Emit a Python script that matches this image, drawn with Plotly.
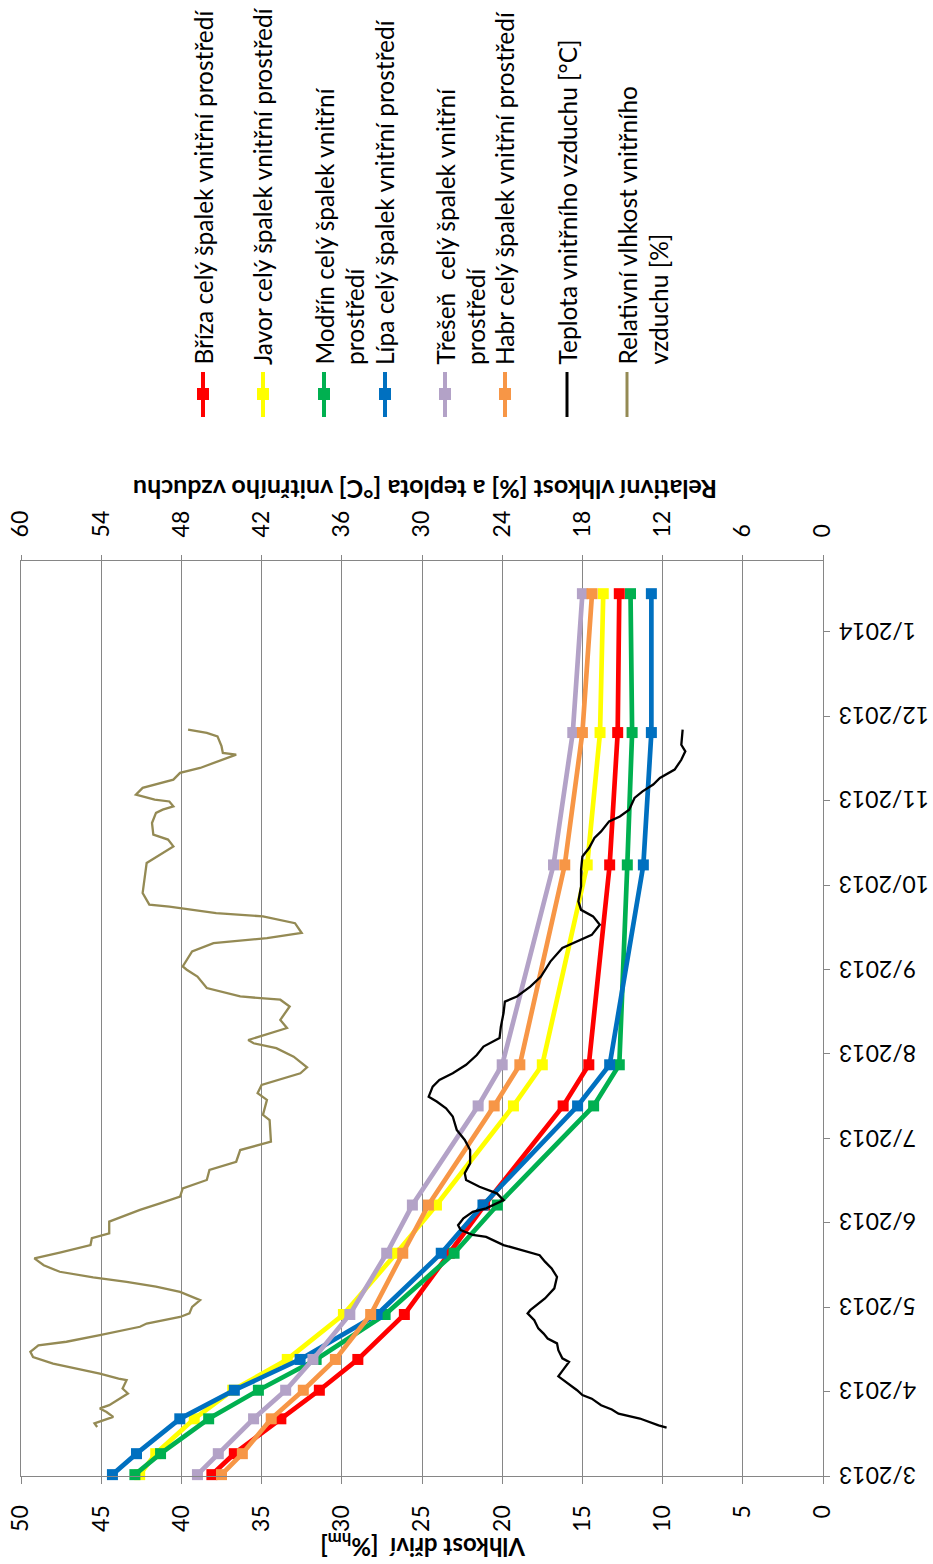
import plotly.graph_objects as go

# ---------------- data ----------------
# days since 1 March 2013 for the wood-moisture measurements
meas_day = [0.5, 8.2, 21.0, 31.5, 42.8, 59.3, 81.8, 99.5, 135.9, 151.0, 224.4, 273.0, 324.0]
briza = [38.1, 36.7, 33.8, 31.4, 29.0, 26.1, 23.3, 21.1, 16.2, 14.6, 13.3, 12.8, 12.7]
javor = [42.6, 41.6, 39.2, 36.8, 33.4, 29.9, 26.6, 24.1, 19.3, 17.5, 14.7, 13.9, 13.7]
modrin = [42.9, 41.3, 38.3, 35.2, 31.6, 27.3, 23.0, 20.3, 14.3, 12.7, 12.2, 11.9, 12.0]
lipa = [44.3, 42.8, 40.1, 36.7, 32.6, 27.8, 23.8, 21.2, 15.3, 13.3, 11.2, 10.7, 10.7]
tresen = [39.0, 37.7, 35.5, 33.5, 31.8, 29.5, 27.2, 25.6, 21.5, 20.0, 16.8, 15.6, 15.0]
habr = [37.5, 36.2, 34.4, 32.4, 30.4, 28.2, 26.2, 24.6, 20.5, 18.9, 16.1, 15.0, 14.4]

# indoor air temperature [°C] (days since 1 March 2013)
temp_day = [17.8, 18.6, 21.1, 22.3, 22.9, 24.4, 26.0, 28.4, 29.7, 31.5,
            34.6, 36.6, 38.6, 41.9, 43.2, 46.2, 48.7, 50.5, 52.3, 54.2,
            57.2, 59.7, 60.9, 62.7, 65.2, 68.9, 73.1, 76.2, 78.7, 81.1,
            83.0, 84.8, 87.8, 88.5, 90.3, 92.1, 94.6, 97.0, 98.3, 101.3,
            103.8, 106.2, 108.7, 111.2, 114.8, 119.7, 123.4, 127.1, 132.0, 135.0,
            137.5, 139.3, 143.0, 145.4, 147.9, 151.0, 154.6, 157.7, 160.8, 165.0,
            170.0, 174.2, 176.1, 179.7, 183.4, 188.9, 193.9, 196.3, 198.7, 202.4,
            205.5, 207.9, 211.0, 216.5, 222.6, 227.5, 230.6, 234.3, 236.7, 240.4,
            242.2, 244.7, 249.0, 251.4, 253.9, 256.3, 259.4, 263.0, 266.1, 268.5,
            274.1]
temp_val = [11.7, 12.3, 13.7, 14.7, 15.3, 15.8, 16.6, 17.3, 18.0, 18.4,
            19.2, 19.8, 19.5, 19.0, 19.5, 19.8, 19.9, 20.6, 20.9, 21.3,
            21.6, 22.1, 21.9, 21.4, 20.8, 20.1, 19.9, 20.3, 20.8, 21.2,
            22.7, 23.9, 25.2, 26.2, 27.1, 27.3, 26.9, 26.2, 25.2, 23.9,
            24.4, 25.7, 26.7, 26.8, 26.4, 26.4, 26.8, 27.4, 27.7, 28.2,
            28.9, 29.5, 29.2, 28.7, 27.7, 26.7, 25.9, 25.4, 24.2, 24.1,
            23.9, 23.8, 22.9, 21.9, 21.1, 20.4, 19.5, 18.4, 17.3, 16.7,
            17.2, 18.1, 18.3, 18.1, 18.1, 18.0, 17.5, 17.1, 16.6, 16.0,
            15.2, 14.5, 14.1, 13.5, 12.7, 12.2, 11.1, 10.6, 10.3, 10.6,
            10.5]

# indoor relative humidity [%] (days since 1 March 2013)
rh_day = [18.0, 19.3, 21.7, 23.5, 24.8, 26.0, 30.3, 32.1, 35.2, 35.8,
          37.6, 39.5, 41.3, 43.7, 45.6, 48.0, 49.3, 51.7, 54.8, 56.0,
          58.4, 59.7, 62.1, 64.6, 67.6, 69.5, 71.3, 72.9, 75.0, 77.4,
          79.9, 82.0, 84.8, 87.3, 89.1, 93.4, 97.7, 100.1, 102.6, 105.6,
          108.7, 112.4, 115.4, 119.7, 121.6, 122.8, 130.7, 132.6, 138.1, 140.6,
          143.6, 147.9, 150.1, 154.0, 157.1, 158.9, 160.1, 164.5, 167.5, 172.4,
          174.9, 176.1, 179.2, 183.4, 185.9, 187.1, 192.6, 195.7, 197.5, 199.4,
          203.0, 205.5, 206.7, 209.1, 209.8, 214.1, 225.1, 226.3, 231.2, 233.7,
          235.5, 239.8, 243.5, 244.7, 245.9, 247.7, 248.4, 250.2, 252.7, 255.7,
          258.2, 260.0, 264.9, 265.5, 268.0, 271.6, 272.9, 274.1]
rh_val = [54.3, 54.5, 53.1, 53.6, 54.1, 53.4, 52.0, 52.4, 52.1, 52.7,
          54.1, 55.8, 57.6, 59.1, 59.3, 58.7, 56.6, 54.1, 51.1, 50.6,
          48.1, 47.4, 47.2, 46.6, 48.1, 49.9, 52.1, 54.6, 57.1, 58.3,
          59.0, 57.1, 54.8, 54.7, 53.4, 53.4, 51.1, 49.6, 48.1, 47.9,
          46.1, 45.9, 43.9, 43.6, 42.1, 41.3, 41.4, 41.9, 41.6, 42.3,
          42.0, 39.1, 38.6, 39.6, 40.9, 42.6, 43.0, 40.1, 40.6, 39.9,
          40.6, 43.6, 46.1, 46.8, 47.6, 47.9, 47.2, 45.6, 41.6, 39.0,
          39.5, 41.9, 45.4, 48.9, 50.4, 50.9, 50.6, 50.2, 48.6, 49.0,
          50.1, 50.2, 49.9, 49.4, 48.6, 48.9, 50.0, 51.4, 50.9, 48.6,
          48.1, 46.6, 43.9, 44.9, 45.0, 45.3, 46.1, 47.5]

# date-axis ticks (every 31 days from 1 March 2013)
date_tick_day = [0, 31, 62, 93, 124, 155, 186, 217, 248, 279, 310]
date_tick_text = ["3/2013", "4/2013", "5/2013", "6/2013", "7/2013", "8/2013",
                  "9/2013", "10/2013", "11/2013", "12/2013", "1/2014"]
moist_ticks = [0, 5, 10, 15, 20, 25, 30, 35, 40, 45, 50]
air_ticks = [0, 6, 12, 18, 24, 30, 36, 42, 48, 54, 60]

wood_names = ["Bříza celý špalek vnitřní prostředí",
              "Javor celý špalek vnitřní prostředí",
              "Modřín celý špalek vnitřní<br>prostředí",
              "Lípa celý špalek vnitřní prostředí",
              "Třešeň  celý špalek vnitřní<br>prostředí",
              "Habr celý špalek vnitřní prostředí"]
air_names = ["Teplota vnitřního vzduchu [°C]",
             "Relativní vlhkost vnitřního<br>vzduchu [%]"]

# ---------------- styling ----------------
FONT = "Lato"
GRID = "#868686"
wood_colors = ["#FF0000", "#FFFF00", "#00B050", "#0070C0", "#B3A2C7", "#F79646"]
air_colors = ["#000000", "#948A54"]

W, H = 933, 1564
L, R, T, B = 21, 110, 561, 88
PW, PH = W - L - R, H - T - B


def px(xp):
    return (xp - L) / PW


def py(yp):
    return (H - B - yp) / PH


fig = go.Figure()
wood_series = [briza, javor, modrin, lipa, tresen, habr]
for name, vals, col in zip(wood_names, wood_series, wood_colors):
    fig.add_trace(go.Scatter(
        x=vals, y=meas_day, name=name.replace("<br>", " "), mode="lines+markers",
        line=dict(color=col, width=4.7), marker=dict(symbol="square", size=11, color=col),
        cliponaxis=False, xaxis="x", yaxis="y"))

fig.add_trace(go.Scatter(x=temp_val, y=temp_day, name=air_names[0], mode="lines",
                         line=dict(color=air_colors[0], width=2.3), xaxis="x2", yaxis="y"))
fig.add_trace(go.Scatter(x=rh_val, y=rh_day, name=air_names[1].replace("<br>", " "), mode="lines",
                         line=dict(color=air_colors[1], width=2.3), xaxis="x2", yaxis="y"))

tick_font = dict(family=FONT, size=23, color="#000000")

annotations = []
shapes = []

# date tick labels (upside-down, right of the plot)
for d, t in zip(date_tick_day, date_tick_text):
    annotations.append(dict(x=1, xref="paper", xshift=14, xanchor="left",
                            y=d, yref="y", yanchor="middle", text=t, textangle=180,
                            showarrow=False, font=tick_font))

# axis titles
title_font = dict(family=FONT, size=24, color="#000000")
annotations.append(dict(x=px(423), y=py(1546), xref="paper", yref="paper",
                        xanchor="center", yanchor="middle",
                        text="<b>Vlhkost dřiví  [%<sub>hm</sub>]</b>", textangle=180,
                        showarrow=False, font=title_font))
annotations.append(dict(x=px(425), y=py(490), xref="paper", yref="paper",
                        xanchor="center", yanchor="middle",
                        text="<b>Relativní vlhkost [%] a teplota [°C] vnitřního vzduchu</b>",
                        textangle=180, showarrow=False,
                        font=dict(family=FONT, size=25, color="#000000")))

# hand-made rotated legend
leg_x = [203, 263, 324, 385, 445, 505, 567, 627]
LINE_GAP = 31
all_names = wood_names + air_names
all_colors = wood_colors + air_colors
for i, (name, col, cx) in enumerate(zip(all_names, all_colors, leg_x)):
    for j, part in enumerate(name.split("<br>")):
        annotations.append(dict(x=px(cx + j * LINE_GAP), y=py(367), xref="paper", yref="paper",
                                xanchor="center", yanchor="bottom", text=part, textangle=-90,
                                showarrow=False, font=dict(family=FONT, size=24.5, color="#000000")))
    lw = 4 if i < 6 else 3
    shapes.append(dict(type="line", xref="paper", yref="paper", x0=px(cx), x1=px(cx),
                       y0=py(417), y1=py(372), line=dict(color=col, width=lw)))
    if i < 6:
        shapes.append(dict(type="rect", xref="paper", yref="paper",
                           x0=px(cx - 6), x1=px(cx + 6), y0=py(400), y1=py(388),
                           fillcolor=col, line=dict(width=0)))

fig.update_layout(
    width=W, height=H,
    margin=dict(l=L, r=R, t=T, b=B, pad=0, autoexpand=False),
    paper_bgcolor="white", plot_bgcolor="white",
    showlegend=False,
    font=dict(family=FONT, size=23, color="#000000"),
    xaxis=dict(range=[50, 0], tickvals=moist_ticks, tickangle=-90, side="bottom",
               automargin=False, ticklabelstandoff=12,
               showgrid=True, gridcolor=GRID, gridwidth=1, zeroline=False,
               showline=True, linecolor=GRID, linewidth=1,
               ticks="outside", ticklen=7, tickcolor=GRID, tickfont=tick_font),
    xaxis2=dict(range=[60, 0], tickvals=air_ticks, tickangle=-90, side="top",
                automargin=False, ticklabelstandoff=13,
                overlaying="x", showgrid=False, zeroline=False,
                showline=True, linecolor=GRID, linewidth=1,
                ticks="outside", ticklen=5, tickcolor=GRID, tickfont=tick_font),
    yaxis=dict(range=[0, 336], tickvals=date_tick_day, showticklabels=False, side="right",
               automargin=False,
               showgrid=False, zeroline=False, showline=True, mirror=True,
               linecolor=GRID, linewidth=1, ticks="outside", ticklen=6, tickcolor=GRID),
    annotations=annotations,
    shapes=shapes,
)

# the page is photographed from its top-left corner: drop the default body margin
fig.write_html("out.html", config={"displayModeBar": False},
               post_script="document.body.style.margin='0';")
